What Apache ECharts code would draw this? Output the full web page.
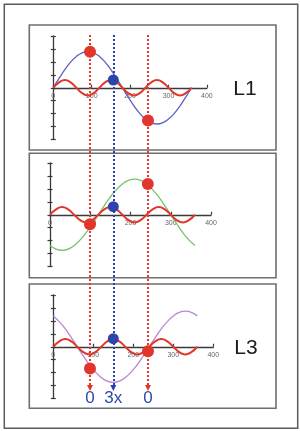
<!DOCTYPE html>
<html>
<head>
<meta charset="utf-8">
<script src="https://cdn.jsdelivr.net/npm/echarts@6/dist/echarts.min.js"></script>
<style>
html,body{margin:0;padding:0;background:#fff;}
#c{width:300px;height:431px;}
</style>
</head>
<body>
<div id="c"></div>
<script>
// ---- data ----
const degrees = [0,15,30,45,60,75,90,105,120,135,150,165,180,195,210,225,240,255,270,285,300,315,330,345,360];
const l1 = [0,0.72,1.4,1.98,2.42,2.7,2.8,2.7,2.42,1.98,1.4,0.72,0,-0.72,-1.4,-1.98,-2.42,-2.7,-2.8,-2.7,-2.42,-1.98,-1.4,-0.72,0];
const l2 = [-2.38,-2.66,-2.75,-2.66,-2.38,-1.94,-1.38,-0.71,0,0.71,1.38,1.94,2.38,2.66,2.75,2.66,2.38,1.94,1.38,0.71,0,-0.71,-1.38,-1.94,-2.38];
const l3 = [2.38,1.94,1.38,0.71,0,-0.71,-1.38,-1.94,-2.38,-2.66,-2.75,-2.66,-2.38,-1.94,-1.38,-0.71,0,0.71,1.38,1.94,2.38,2.66,2.75,2.66,2.38];
const harmonic3 = [0,0.42,0.6,0.42,0,-0.42,-0.6,-0.42,0,0.42,0.6,0.42,0,-0.42,-0.6,-0.42,0,0.42,0.6,0.42,0,-0.42,-0.6,-0.42,0];

const redDots1 = [[95.6,2.78],[246.6,-2.53]];
const blueDots1 = [[156.3,0.6]];
const redDots2 = [[99.3,-0.73],[243,2.37]];
const blueDots2 = [[157.3,0.62]];
const redDots3 = [[91.75,-1.68],[236.75,-0.34]];
const blueDots3 = [[150,0.62]];

const redCursors = [95.6, 246.6];
const blueCursors = [156.3];
const redCursorLabels = ['0','0'];
const blueCursorLabels = ['3x'];

const xTicks = {min:0, max:400, interval:100};
const yTicks = {min:-4, max:4, interval:1};
const panelNames = ['L1', '', 'L3'];

// ---- styling ----
const FONT = 'Liberation Sans, Arial, sans-serif';
const RED = '#e2352c';
const BLUE_DOT = '#2d44a8';
const BLUE_LINE = '#2a3db8';
const LABEL_BLUE = '#2f4aa6';
const GRID_H = 103.5;

const grids = [
  {left:53.3, top:36, width:153.6, height:GRID_H},
  {left:50,   top:163, width:161,  height:GRID_H},
  {left:53.3, top:295, width:160,  height:GRID_H},
  {left:53.3, top:35, width:153.6, height:353}
];

function zip(xs, ys){ return xs.map((x,i)=>[x, ys[i]]); }

const xAxis = [], yAxis = [];
for (let i=0;i<3;i++){
  xAxis.push({type:'value', gridIndex:i, min:xTicks.min, max:xTicks.max, interval:xTicks.interval,
    position:'bottom', offset:-GRID_H/2,
    axisLine:{onZero:false, lineStyle:{color:'#3a3a3a', width:1.3}},
    axisTick:{show:true, inside:true, length:3, lineStyle:{color:'#3a3a3a', width:1.2}},
    axisLabel:{fontSize:7, color:'#666', margin:5, fontFamily:FONT, showMinLabel:true, showMaxLabel:true},
    splitLine:{show:false}});
  yAxis.push({type:'value', gridIndex:i, min:yTicks.min, max:yTicks.max, interval:yTicks.interval,
    axisLine:{show:true, lineStyle:{color:'#3a3a3a', width:1.3}},
    axisTick:{show:true, inside:false, length:2.5, lineStyle:{color:'#3a3a3a', width:1.2}},
    axisLabel:{show:false}, splitLine:{show:false}});
  yAxis.push({type:'value', gridIndex:i, min:yTicks.min, max:yTicks.max, interval:yTicks.interval, position:'left',
    axisLine:{show:false},
    axisTick:{show:true, inside:true, length:2.5, lineStyle:{color:'#3a3a3a', width:1.2}},
    axisLabel:{show:false}, splitLine:{show:false}});
}
xAxis.push({type:'value', gridIndex:3, min:xTicks.min, max:xTicks.max, show:false});
yAxis.push({type:'value', gridIndex:3, min:0, max:1, show:false});

const series = [];
const fundamentals = [[l1,'#5b62c6'],[l2,'#74c46c'],[l3,'#b986d4']];
fundamentals.forEach(([vals,col],i)=>{
  series.push({type:'line', xAxisIndex:i, yAxisIndex:2*i, data:zip(degrees, vals), smooth:true,
    showSymbol:false, lineStyle:{color:col, width:1.3}, z:2, silent:true});
  series.push({type:'line', xAxisIndex:i, yAxisIndex:2*i, data:zip(degrees, harmonic3), smooth:true,
    showSymbol:false, lineStyle:{color:RED, width:2}, z:3, silent:true});
});

// vertical cursor lines across all panels
series.push({type:'line', xAxisIndex:3, yAxisIndex:6, data:[], z:4, silent:true,
  markLine:{silent:true, symbol:['none','triangle'], symbolSize:[6,6], animation:false,
    lineStyle:{color:RED, width:2, type:[2,2]},
    label:{show:true, position:'end', formatter:'{b}', color:LABEL_BLUE, fontSize:17, fontFamily:FONT, distance:2},
    data: redCursors.map((x,i)=>[{name:redCursorLabels[i], coord:[x,1]},{coord:[x,0]}])}});
series.push({type:'line', xAxisIndex:3, yAxisIndex:6, data:[], z:4, silent:true,
  markLine:{silent:true, symbol:['none','triangle'], symbolSize:[6,6], animation:false,
    lineStyle:{color:BLUE_LINE, width:2, type:[2,2]},
    label:{show:true, position:'end', formatter:'{b}', color:LABEL_BLUE, fontSize:17, fontFamily:FONT, distance:2},
    data: blueCursors.map((x,i)=>[{name:blueCursorLabels[i], coord:[x,1]},{coord:[x,0]}])}});

// dots
[[redDots1,blueDots1],[redDots2,blueDots2],[redDots3,blueDots3]].forEach(([r,b],i)=>{
  series.push({type:'scatter', xAxisIndex:i, yAxisIndex:2*i, data:r, symbolSize:12,
    itemStyle:{color:RED, opacity:1}, z:6, silent:true});
  series.push({type:'scatter', xAxisIndex:i, yAxisIndex:2*i, data:b, symbolSize:11,
    itemStyle:{color:BLUE_DOT, opacity:1}, z:6, silent:true});
});

const panelRects = [[29.3,25,246.7,125],[29.3,153.3,246.7,124.4],[29.3,284,246.7,124.3]];
const graphic = [
  {type:'rect', shape:{x:4.3,y:4.3,width:293.4,height:424}, style:{fill:'#fff', stroke:'#5a5a5a', lineWidth:1.5}, z:-10, silent:true}
];
panelRects.forEach((r,i)=>{
  graphic.push({type:'rect', shape:{x:r[0],y:r[1],width:r[2],height:r[3]}, style:{fill:'#fff', stroke:'#6f6f6f', lineWidth:1.6}, z:-5, silent:true});
});
const labelPos = [[245,89],[245,215],[246,348]];
panelNames.forEach((n,i)=>{
  if(!n) return;
  graphic.push({type:'text', x:labelPos[i][0], y:labelPos[i][1], style:{text:n, fill:'#1c1c1c', font:'21px '+FONT, textAlign:'center', textVerticalAlign:'middle'}, z:10, silent:true});
});

const chart = echarts.init(document.getElementById('c'), null, {renderer:'canvas'});
chart.setOption({animation:false, backgroundColor:'#fff', grid:grids, xAxis, yAxis, series, graphic});
</script>
</body>
</html>
